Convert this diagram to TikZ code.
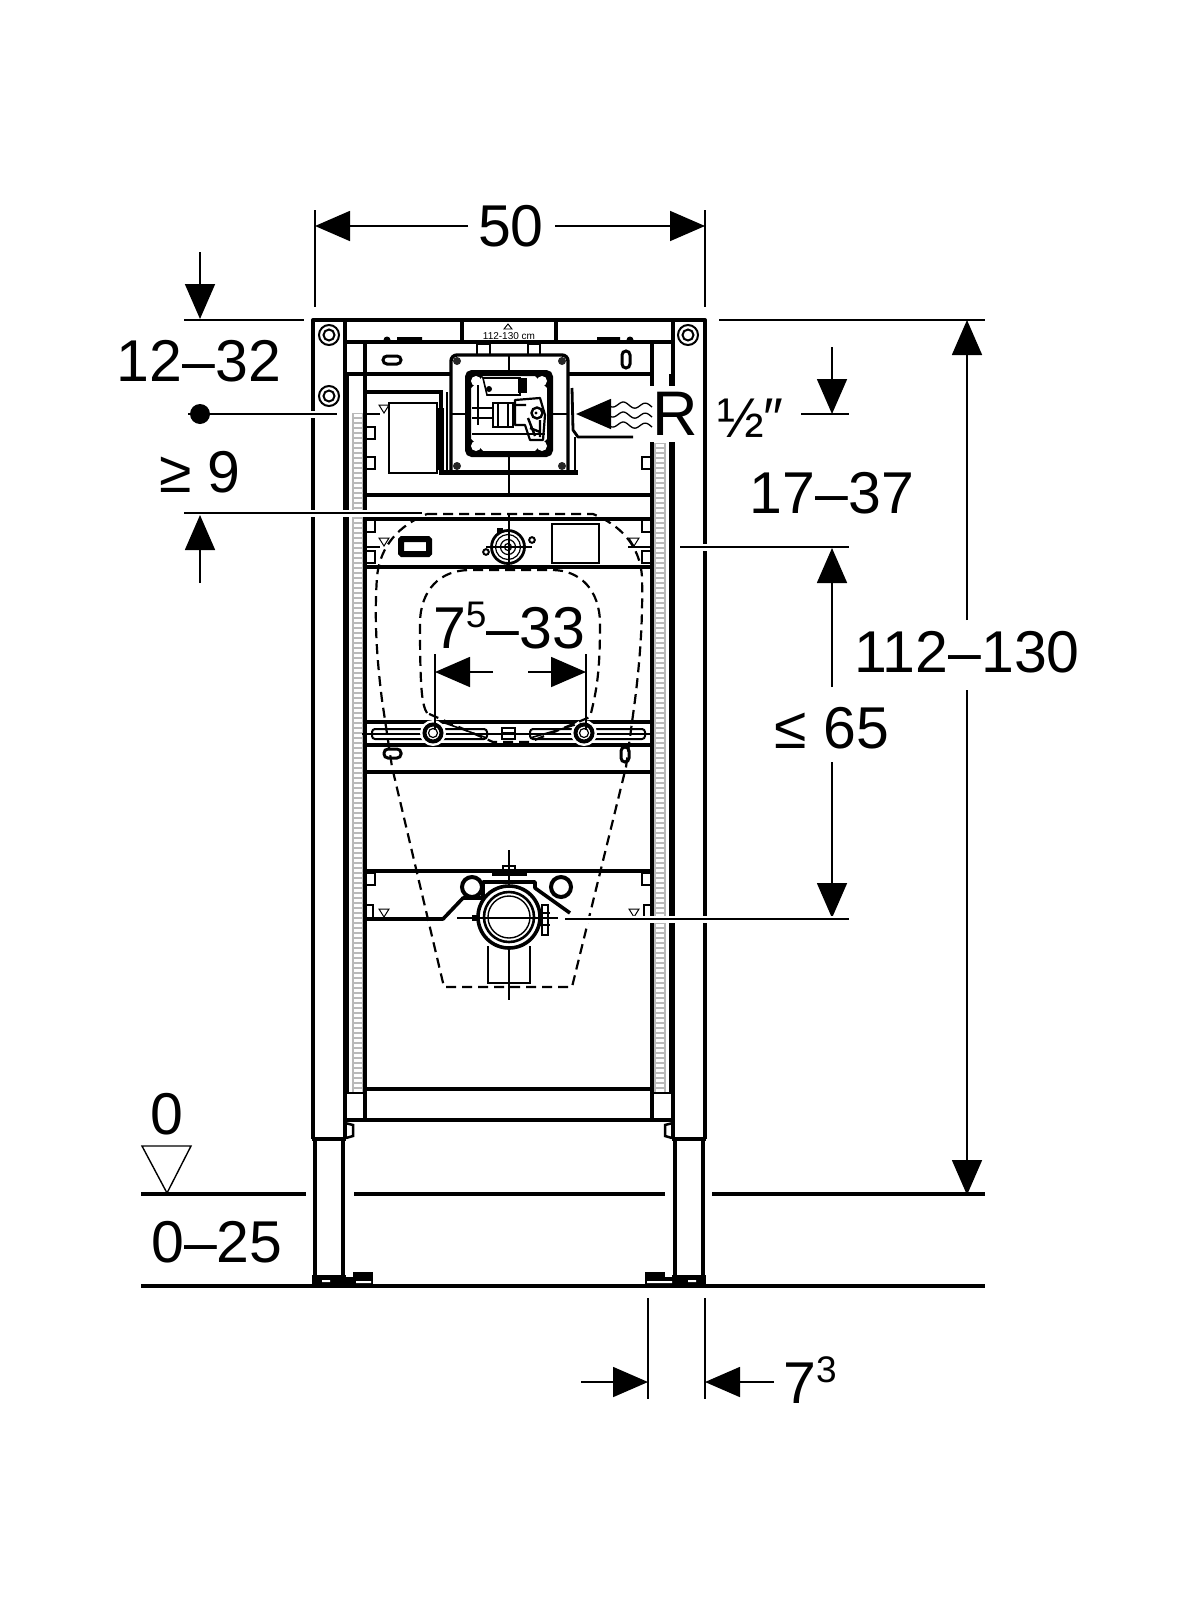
\documentclass[tikz,border=0pt]{standalone}
\usepackage{fontspec}
\setmainfont{Liberation Sans}
\usetikzlibrary{arrows.meta}
\newcommand{\dimfont}{\fontsize{59}{59}\selectfont}
\newcommand{\supnum}[1]{\raisebox{21pt}{\fontsize{37}{37}\selectfont #1}}
\tikzset{
  x=1pt,y=-1pt,
  frm/.style={line width=4pt,line join=round},
  bar/.style={line width=3.2pt},
  thn/.style={line width=1.6pt},
  hair/.style={line width=1.1pt},
  dimln/.style={line width=1.7pt},
  halo/.style={preaction={draw=white,line width=7pt}},
  dashline/.style={line width=2.2pt,dash pattern=on 10pt off 6pt},
  dimarrow/.style={-{Triangle[length=35pt,width=30pt]},line width=1.7pt},
  dimlabel/.style={font=\dimfont,inner sep=0pt,text=black},
  tiny tri/.style={line width=1pt,draw=black,fill=white}
}
\newcommand{\tinytri}[2]{\draw[tiny tri] (#1-5,#2-4) -- (#1+5,#2-4) -- (#1,#2+4) -- cycle;}
\newcommand{\notchL}[2]{\draw[line width=2.8pt] (#1,#2) -- (#1+8,#2) -- (#1+8,#2+12) -- (#1,#2+12);}
\newcommand{\notchR}[2]{\draw[line width=2.8pt] (#1,#2) -- (#1-8,#2) -- (#1-8,#2+12) -- (#1,#2+12);}
\newcommand{\ringbolt}[2]{\draw[line width=2pt] (#1,#2) circle (10); \draw[line width=2pt] (#1,#2) circle (5.5);}
\newcommand{\rulerstrip}[3]{%
  \fill[gray!55] (#1,#2) rectangle (#1+12,#3);
  \pgfmathtruncatemacro{\ynext}{#2+5}
  \foreach \yy in {#2,\ynext,...,#3}{\fill[white] (#1+1.6,\yy+1) rectangle (#1+10.4,\yy+3.8);}
}
\begin{document}
\begin{tikzpicture}
\useasboundingbox[fill=white] (0,0) rectangle (1200,1600);

% strips
\rulerstrip{352}{413}{1092}
\rulerstrip{654}{443}{1092}

% outer frame
\draw[frm] (313,1139) -- (313,320) -- (705,320) -- (705,1139);
\draw[frm] (345,320) -- (345,1139);
\draw[frm] (673,320) -- (673,1139);
\draw[frm] (312,1139) -- (346,1139);
\draw[frm] (672,1139) -- (706,1139);
% legs
\draw[frm] (315,1139) -- (315,1280) (343,1139) -- (343,1280);
\draw[frm] (675,1139) -- (675,1280) (703,1139) -- (703,1280);
% feet
\fill (312,1275) rectangle (346,1285);
\fill (346,1277) rectangle (373,1285);
\fill (353,1272) rectangle (373,1278);
\fill (645,1272) rectangle (665,1278);
\fill (645,1277) rectangle (673,1285);
\fill (672,1275) rectangle (706,1285);
\fill[white] (322,1280) rectangle (330,1282) (356,1281) rectangle (371,1283) (647,1281) rectangle (672,1283) (688,1280) rectangle (696,1282);
% adjusters
\draw[line width=2.5pt] (345,1123) -- (353,1125) -- (353,1136) -- (346,1138);
\draw[line width=2.5pt] (673,1123) -- (665,1125) -- (665,1136) -- (672,1138);
% rails
\draw[frm] (365,344) -- (365,1120);
\draw[frm] (652,344) -- (652,1120);
\draw[thn] (348,374) -- (348,1093) -- (365,1093);
\draw[thn] (670,374) -- (670,1093) -- (652,1093);
% bars
\draw[bar] (345,342) -- (673,342);
\draw[bar] (345,374) -- (451,374) (568,374) -- (652,374);
\draw[bar] (365,495) -- (652,495);
\draw[bar] (365,519) -- (652,519);
\draw[bar] (365,567) -- (652,567);
\draw[bar] (365,722) -- (652,722);
\draw[bar] (365,745) -- (652,745);
\draw[bar] (365,772) -- (652,772);
\draw[bar] (365,871) -- (652,871);
\draw[frm] (345,1120) -- (673,1120);
\draw[bar] (365,1089) -- (652,1089);

% screws
\ringbolt{329}{335}
\ringbolt{329}{396}
\ringbolt{688}{335}

% top label plate
\draw[bar] (462,322) -- (462,342) (556,322) -- (556,342);
\node[font=\fontsize{10}{10}\selectfont,inner sep=0pt] (plate) at (509,336) {112-130 cm};
\draw[line width=.9pt] (504,329) -- (512,329) -- (508,324) -- cycle;
\fill (397,337) rectangle (422,342) (597,337) rectangle (620,342);
\fill (387,340) circle (3.5) (630,340) circle (3.5);
\draw[line width=2.8pt] (477,344) rectangle (490,355) (528,344) rectangle (540,355);

% slots
\draw[line width=3pt,rounded corners=4pt] (383,356) rectangle (401,364);
\draw[line width=3pt,rounded corners=4pt] (622,351) rectangle (630,368);

% flush box
\draw[line width=3.4pt,rounded corners=6pt] (451,472) -- (451,355) -- (568,355) -- (568,472);
\draw[line width=5pt] (439,472) -- (578,472);
\draw[line width=6pt,rounded corners=4pt] (468,373) rectangle (550,454);
\foreach \cx/\cy in {457/361,562/361,457/466,562/466}{\fill[gray!30!black] (\cx,\cy) circle (4);}
\fill (468,373) -- (486,373) -- (468,391) -- cycle;
\fill (550,373) -- (532,373) -- (550,391) -- cycle;
\fill (468,454) -- (486,454) -- (468,436) -- cycle;
\fill (550,454) -- (532,454) -- (550,436) -- cycle;
\foreach \cx/\cy in {476/381,542/381,476/446,542/446}{\fill[white] (\cx,\cy) circle (5);}
\draw[hair] (509,355) -- (509,373) (509,454) -- (509,495);
\draw[hair] (451,414) -- (468,414) (550,414) -- (568,414);
% flush box interior
\draw[thn] (483,378) -- (520,378) -- (520,395) -- (487,395) -- cycle;
\fill (489,389) circle (3);
\fill (518,378) rectangle (527,393);
\draw[thn] (472,408) -- (493,408) (472,418) -- (493,418);
\draw[thn] (493,403) rectangle (513,427);
\draw[thn] (498,403) -- (498,427) (508,403) -- (508,427);
\draw[line width=2.2pt,line join=round] (515,400) -- (540,398) -- (545,415) -- (543,440) -- (530,440) -- (525,425) -- (515,425) -- cycle;
\draw[line width=2.4pt] (537,413) circle (5.5);
\draw[line width=2.4pt] (530,428) -- (540,432) (528,418) -- (535,436) (516,405) -- (526,405) (540,420) -- (540,437);
\fill (536,413) circle (1.6);
\draw[thn] (478,385) -- (478,425);
\draw[hair] (472,434) -- (545,434);
% left block
\draw[bar] (365,392) -- (441,392) -- (441,472);
\draw[line width=2pt] (389,403) rectangle (437,473);
\fill (437,408) rectangle (444,470);
\draw[hair] (447,392) -- (447,472);
\draw[line width=1.6pt] (367,414) -- (380,414);
\tinytri{384}{409}
\notchL{367}{427}
\notchL{367}{457}
\notchR{650}{457}
% hose
\draw[line width=2.8pt,line join=round] (572,388) -- (573,430) -- (578,437) -- (633,437);
\draw[hair] (575,437) -- (575,472);

% middle band
\notchL{367}{520}
\notchL{367}{551}
\notchR{650}{520}
\notchR{650}{551}
\tinytri{384}{542}
\tinytri{634}{542}
\draw[line width=1.6pt] (367,547) -- (380,547) (628,547) -- (650,547);
\draw[line width=6pt,rounded corners=1pt] (401,539) rectangle (429,554);
\draw[line width=1.9pt] (552,524) rectangle (599,563);
\draw[line width=2.8pt] (508,547) circle (16.5);
\draw[line width=1.2pt] (508,547) circle (12.5) (508,547) circle (7.5) (508,547) circle (3.5);
\draw[line width=2pt] (486,552) circle (2.8) (532,540) circle (2.8);
\fill (497,528) rectangle (503,533);
\draw[hair] (509,513) -- (509,567) (486,547) -- (532,547);

% bolt rail
\foreach \xa/\xb in {372/487,530/645}{\draw[line width=2pt,rounded corners=3pt] (\xa,729) rectangle (\xb,739);}
\draw[hair] (362,734) -- (650,734);
\draw[thn] (502,728) rectangle (515,739);
\draw[hair] (502,733) -- (515,733);
\fill[white] (433,733) circle (13) (584,733) circle (13);
\draw[line width=4pt] (433,733) circle (8.5) (584,733) circle (8.5);
\draw[line width=1.2pt] (433,733) circle (4.5) (584,733) circle (4.5);
\draw[thn] (442,722) -- (487,738) (575,725) -- (530,738);
\draw[line width=3pt,rounded corners=4pt] (384,749) rectangle (401,758);
\draw[line width=3pt,rounded corners=4pt] (621,747) rectangle (629,762);

% urinal dashed outlines
\draw[dashline] (427,514) -- (593,514) .. controls (620,525) and (640,545) .. (642,577) .. controls (643,620) and (640,660) .. (635,700) -- (626,767) -- (572,987) -- (444,987) -- (392,767) -- (382,700) .. controls (377,660) and (374,620) .. (377,577) .. controls (380,545) and (400,525) .. (427,514);
\draw[dashline] (427,713) .. controls (422,705) and (420,690) .. (420,624) .. controls (420,590) and (440,570) .. (470,570) -- (552,570) .. controls (580,570) and (600,590) .. (600,624) .. controls (600,670) and (597,690) .. (590,717) -- (530,742) -- (493,742) -- cycle;

% waste fitting
\notchL{367}{873}
\notchR{650}{873}
\draw[line width=2.8pt] (367,905) -- (373,905) -- (373,918);
\draw[line width=2.8pt] (650,905) -- (644,905) -- (644,918);
\tinytri{384}{913}
\tinytri{634}{913}
\draw[hair] (509,850) -- (509,1000);
\draw[thn] (503,866) rectangle (515,872);
\fill (492,872) rectangle (527,876);
\draw[line width=4pt] (472,887) circle (10) (561,887) circle (10);
\draw[line width=3.6pt,line join=round] (365,919) -- (443,919) -- (463,898) -- (483,898) -- (483,882) -- (535,882) -- (535,888) -- (570,913);
\fill[white] (509,917) circle (31);
\draw[line width=3.6pt] (509,917) circle (31);
\draw[line width=2.6pt] (509,917) circle (25);
\draw[line width=1.4pt] (509,917) circle (21);
\draw[line width=2.6pt] (488,946) -- (488,983) -- (530,983) -- (530,946);
\draw[hair] (457,918) -- (558,918);
\fill (472,915) rectangle (480,921);
\draw[line width=2.4pt] (542,905) rectangle (548,935);
\draw[line width=2.4pt] (540,913) -- (550,913) (540,925) -- (550,925);

% dimensions
\coordinate (a50l) at (315,226);
\coordinate (a50r) at (705,226);
\node[dimlabel] (l50) at (511,226) {50};
\draw[dimln] (315,210) -- (315,307) (705,210) -- (705,307);
\draw[dimarrow] (468,226) -- (a50l);
\draw[dimarrow] (555,226) -- (a50r);

\coordinate (t1232) at (200,319);
\draw[dimarrow] (200,252) -- (t1232);
\draw[dimln] (184,320) -- (304,320);
\node[dimlabel] (l1232) at (199,361) {12–32};
\draw[dimln,halo] (188,414) -- (337,414);
\fill (200,414) circle (10);
\node[dimlabel] (l9) at (200,472) {≥ 9};
\draw[dimln,halo] (184,513) -- (422,513);
\draw[dimarrow] (200,583) -- (200,515);

\draw[dimln] (719,320) -- (985,320);
\node[dimlabel] (l112) at (967,652) {112–130};
\draw[dimarrow] (967,620) -- (967,320);
\draw[dimarrow] (967,690) -- (967,1195);

\draw[line width=4.4pt] (141,1194) -- (306,1194) (354,1194) -- (665,1194) (712,1194) -- (985,1194);
\draw[line width=4.4pt] (141,1286) -- (985,1286);
\draw[line width=1.4pt] (142,1146) -- (191,1146) -- (167,1193) -- cycle;
\node[dimlabel] (l0) at (167,1114) {0};
\node[dimlabel] (l025) at (217,1242) {0–25};

\draw[dimln] (648,1298) -- (648,1399) (705,1298) -- (705,1399);
\draw[dimarrow] (581,1382) -- (648,1382);
\draw[dimarrow] (774,1382) -- (705,1382);
\node[dimlabel,anchor=base west] (l73) at (783,1403) {7\supnum{3}};

% R 1/2
\node[dimlabel,fill=white,inner xsep=3pt,inner ysep=6pt] (lR) at (675,414) {\fontsize{63}{63}\selectfont R};
\node[inner sep=0pt,anchor=west,fill=white] (lhalf) at (717,418) {\fontsize{56}{56}\selectfont ½″};
\draw[dimarrow] (610,414) -- (576,414);
\foreach \dy in {404,414,424}{
  \draw[line width=1.3pt] plot[domain=607:652,samples=30] (\x,{\dy+2.8*sin((\x-607)*360/22)+(\x-607)*0.05});
}
\draw[dimarrow] (832,347) -- (832,414);
\draw[dimln] (801,414) -- (849,414);
\node[dimlabel] (l1737) at (832,493) {17–37};
\draw[dimln,halo] (680,547) -- (849,547);
\draw[dimarrow] (832,687) -- (832,548);
\node[dimlabel] (l65) at (832,728) {≤ 65};
\draw[dimarrow] (832,762) -- (832,918);
\draw[dimln,halo] (565,919) -- (849,919);

\node[dimlabel,fill=white,inner ysep=1pt] (l75) at (509,626) {7\supnum{5}–33};
\draw[dimarrow] (493,672) -- (435,672);
\draw[dimarrow] (528,672) -- (586,672);
\draw[dimln] (435,654) -- (435,730) (586,654) -- (586,730);
\end{tikzpicture}
\end{document}
